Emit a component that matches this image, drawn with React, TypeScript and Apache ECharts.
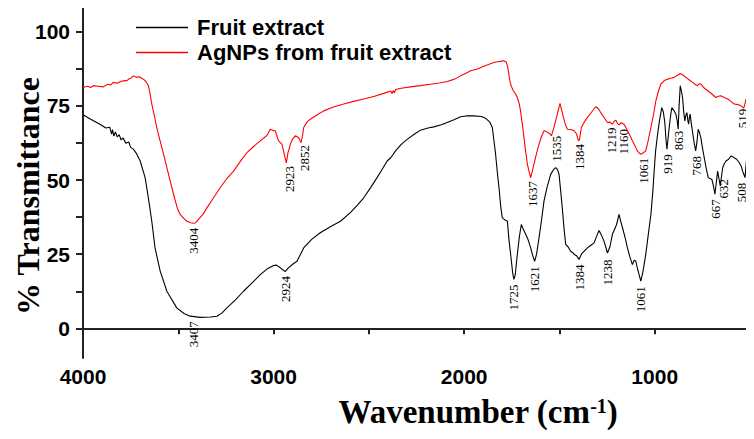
import React, { useEffect, useRef } from "react";
import * as echarts from "echarts";

// Wavenumber (cm-1) and % transmittance
const fruitWn = [4000,3960,3911,3880,3860,3850,3845,3838,3830,3820,3810,3800,3790,3775,3760,3750,3736,3720,3700,3674,3657,3639,3622,3595,3560,3508,3470,3438,3385,3330,3297,3270,3245,3200,3158,3110,3070,3030,3000,2985,2965,2945,2938,2925,2900,2877,2842,2800,2755,2700,2649,2597,2560,2527,2490,2457,2430,2404,2385,2360,2330,2299,2260,2229,2190,2159,2120,2089,2050,2019,1990,1949,1910,1887,1865,1852,1845,1835,1825,1817,1808,1800,1785,1773,1765,1756,1745,1739,1732,1721,1710,1700,1690,1677,1665,1651,1640,1630,1620,1607,1595,1581,1565,1546,1530,1520,1510,1502,1493,1485,1475,1467,1455,1441,1430,1420,1410,1397,1385,1370,1353,1335,1318,1305,1292,1280,1266,1255,1248,1235,1222,1210,1200,1187,1178,1169,1155,1143,1130,1117,1108,1099,1090,1082,1073,1062,1047,1035,1020,1010,1003,995,985,975,963,955,947,940,936,930,924,916,910,900,889,882,877,872,866,860,854,848,842,836,831,826,822,818,814,808,801,793,785,778,772,765,758,750,740,730,719,710,700,692,684,677,670,663,656,650,643,635,626,612,600,590,583,570,556,545,539,530,526,522,519];
const fruitT = [72,70.5,68.8,67.5,67.8,65.5,67,64.8,66.2,64.5,65.3,63.5,64.2,62.4,62.8,61,60.4,59,56.4,50.8,44,36.1,27.1,19.3,12.5,6.9,5,4.1,3.7,3.8,4.1,5.2,6.9,9.6,12.5,15.5,18.1,20.2,21.2,21.3,20.4,19.4,19.2,20.2,21.6,22.6,27.1,30,32.2,34.3,36.1,39,41.5,44,47.5,50.8,53.6,56.4,57.5,59.8,62,63.7,65.5,66.8,67.5,67.9,68.6,69.4,70.4,71.3,71.6,71.6,71.4,70.8,69.5,67.7,64,58.7,52,47.4,41,37.3,36.5,36.1,30,24.9,18.5,16.5,18,24.9,31,35,33.5,31.7,30,27.1,24.5,22.6,25,30.5,36,42.9,47.5,51.9,53.6,54.2,53.5,51.9,46,40.6,33,28.3,27.5,26,25.5,24.8,24.5,23.2,25,26,27.1,28,28.8,31,33,31.5,29.4,27,25.4,27.5,31.7,33.5,35,38.4,36,33.9,30.5,27.1,24,21.5,23,22.6,20,18.1,15.9,19,24.9,31,38.4,46,53,60,65.4,70,74.4,73,69.4,63,60.4,64,67.7,72,74.4,73.5,72.2,70,67.1,75,81.8,80,77.8,73,69.9,72,72.7,70,68.8,71,72.2,69,66,62.5,59.8,63,67.1,66,64.3,61,57.5,54,50.8,50.5,50.2,48,45.2,49,53,50.5,48,51,54.2,55.5,56.4,57,58.1,57.8,57.5,57,55.8,54.5,53,51.5,50.8,54,56.4];

const agWn = [4000,3975,3960,3946,3920,3893,3870,3855,3841,3820,3800,3788,3770,3755,3745,3736,3720,3705,3690,3683,3670,3657,3648,3639,3625,3613,3600,3586,3560,3540,3525,3505,3490,3470,3455,3435,3420,3408,3394,3370,3350,3315,3280,3245,3210,3175,3140,3105,3070,3035,3017,3000,2991,2974,2956,2945,2933,2925,2912,2900,2886,2869,2856,2848,2842,2825,2807,2770,2737,2690,2632,2580,2527,2470,2422,2385,2378,2372,2366,2360,2330,2282,2230,2176,2130,2089,2050,2019,1990,1966,1931,1890,1844,1810,1791,1780,1773,1766,1760,1752,1742,1730,1721,1712,1704,1695,1686,1677,1668,1658,1651,1642,1634,1620,1607,1595,1581,1570,1560,1550,1542,1530,1520,1508,1497,1488,1479,1470,1458,1440,1423,1410,1400,1395,1385,1370,1353,1330,1309,1295,1283,1265,1248,1235,1222,1212,1204,1195,1187,1175,1161,1150,1143,1130,1117,1100,1091,1080,1073,1060,1047,1035,1020,1005,994,980,968,950,933,915,898,880,866,850,836,820,801,785,775,765,758,740,722,700,679,665,653,635,617,600,583,570,556,545,533,527,521];
const agT = [81.2,81.6,81.2,81.8,81.6,81.4,82.3,82,82.9,82.6,83.3,83.4,83.5,84.2,84.5,85.1,84.6,84.8,84.2,84,83.2,81.8,79,75.6,71.5,67.7,64.3,60.9,54.2,49,45.2,40.5,38.4,37,36.1,35.6,35.4,35.6,36.7,38.5,40.6,44,47.4,50.5,53,56.2,59.2,61.3,63.2,65,67.1,66.6,66.6,63.2,62.1,59,55.8,59,62.1,63.8,64.9,64.3,62.6,65,67.7,69.5,70.5,72,73.3,74.5,75.6,76.5,77.3,78.2,79.2,80,79.1,80.2,79.3,80.5,80.9,81.4,81.8,82.3,82.7,83.2,84,85.1,86,86.8,87.4,88.5,89.6,90,90.2,89.8,88.5,86,83.4,81.5,80.1,79,77.8,76,73.3,69,64.3,59.5,55.3,52.5,50.8,53,55.3,59,62.1,64.5,66.6,66.4,66,65.5,64.9,67.5,69.9,73,75.8,73.5,71.1,69,67.1,67,66.6,65.5,63.2,63.5,67.7,69.5,71.1,73,74.7,74,72.7,71,69.4,69.5,68.8,69.8,70.2,69,68.6,69.3,68.8,67.5,66.6,65,63.2,61,59.8,59,58.7,59.2,59.8,63,67.7,72.5,76.7,80,82.3,83.5,84,84.3,84.6,85.3,85.9,85.3,84.6,83.8,82.9,82.1,81.8,82.5,82.3,81,80.1,79,77.8,78.2,78.4,77.8,77.3,76.5,75.6,75.5,75.3,74.9,74.2,75.5,77.3];

// Peak annotations: [text, wavenumber at label, transmittance at label top]
const fruitPeaks: [string, number, number][] = [
  ["3407", 3420, 2.4], ["2924", 2935, 17.6], ["1725", 1739, 14.8], ["1621", 1630, 20.9],
  ["1384", 1397, 21.5], ["1238", 1248, 23.2], ["1061", 1073, 14.2], ["919", 933, 58.7],
  ["863", 877, 66.6], ["768", 780, 58.1], ["667", 679, 43.5], ["632", 640, 50.3], ["508", 545, 49.1],
];
const agPeaks: [string, number, number][] = [
  ["3404", 3420, 33.9], ["2923", 2917, 54.7], ["2852", 2839, 61.8], ["1637", 1642, 49.7],
  ["1535", 1514, 64.9], ["1384", 1393, 62.1], ["1219", 1225, 67.7], ["1160", 1164, 67.2],
  ["1061", 1061, 57.5], ["519", 538, 74],
];

const seriesNames = ["Fruit extract", "AgNPs from fruit extract"];
const xTicks = [4000, 3000, 2000, 1000];
const yLabels = [0, 25, 50, 75, 100];
const yTicks = [0, 12.5, 25, 37.5, 50, 62.5, 75, 87.5, 100];

export default function App() {
  const ref = useRef<HTMLDivElement>(null);
  useEffect(() => {
    if (!ref.current) return;
    const chart = echarts.init(ref.current, null, { renderer: "svg" });
    const allPeaks = [...fruitPeaks, ...agPeaks];
    chart.setOption({
      animation: false,
      backgroundColor: "#fff",
      grid: { left: 83, right: 4, top: 2, bottom: 81, outerBoundsMode: "none" },
      legend: {
        data: seriesNames,
        orient: "vertical",
        left: 131,
        top: 11,
        icon: "rect",
        itemWidth: 52,
        itemHeight: 1.5,
        itemGap: 2,
        textStyle: {
          fontFamily: "Liberation Sans",
          fontWeight: "bold",
          fontSize: 22,
          lineHeight: 23,
          color: "#000",
          padding: [0, 0, 0, 4],
        },
      },
      xAxis: {
        type: "value",
        min: 500,
        max: 4000,
        interval: 500,
        inverse: true,
        splitLine: { show: false },
        axisLine: { lineStyle: { color: "#222", width: 2 } },
        axisTick: { length: 6, lineStyle: { color: "#222", width: 2 } },
        axisLabel: {
          margin: 8,
          fontFamily: "Liberation Sans",
          fontWeight: "bold",
          fontSize: 21,
          color: "#000",
          formatter: (v: number) => (xTicks.includes(v) ? String(v) : ""),
        },
      },
      yAxis: {
        type: "value",
        min: -10,
        max: 110,
        splitLine: { show: false },
        axisLine: { show: true, lineStyle: { color: "#222", width: 2 } },
        axisTick: { show: true, length: 7, customValues: yTicks, lineStyle: { color: "#222", width: 2 } },
        axisLabel: {
          margin: 13,
          customValues: yLabels,
          fontFamily: "Liberation Sans",
          fontWeight: "bold",
          fontSize: 21,
          color: "#000",
        },
      },
      series: [
        {
          name: seriesNames[0],
          type: "line",
          symbol: "none",
          data: fruitWn.map((w, i) => [w, fruitT[i]]),
          lineStyle: { color: "#000", width: 1.1 },
          itemStyle: { color: "#000" },
        },
        {
          name: seriesNames[1],
          type: "line",
          symbol: "none",
          data: agWn.map((w, i) => [w, agT[i]]),
          lineStyle: { color: "#ff0000", width: 1.1 },
          itemStyle: { color: "#ff0000" },
        },
        {
          type: "custom",
          silent: true,
          clip: false,
          encode: { x: 0, y: 1 },
          data: allPeaks.map((p) => [p[1], p[2]]),
          renderItem: (params: any, api: any) => {
            const pt = api.coord([api.value(0), api.value(1)]);
            return {
              type: "text",
              x: pt[0],
              y: pt[1],
              rotation: Math.PI / 2,
              style: {
                text: allPeaks[params.dataIndex][0],
                fontFamily: "Liberation Serif",
                fontSize: 13,
                fill: "#000",
                align: "right",
                verticalAlign: "middle",
              },
            };
          },
        },
      ],
      graphic: [
        {
          type: "text",
          x: 28,
          y: 196,
          rotation: Math.PI / 2,
          style: {
            text: "% Transmittance",
            fontFamily: "Liberation Serif",
            fontWeight: "bold",
            fontSize: 32,
            fill: "#000",
            align: "center",
            verticalAlign: "middle",
          },
        },
        {
          type: "text",
          x: 478,
          y: 412,
          style: {
            text: "{a|Wavenumber (cm}{b|-1}{a|)}",
            align: "center",
            verticalAlign: "middle",
            rich: {
              a: { fontFamily: "Liberation Serif", fontWeight: "bold", fontSize: 33, fill: "#000", color: "#000" },
              b: { fontFamily: "Liberation Serif", fontWeight: "bold", fontSize: 20, fill: "#000", color: "#000", verticalAlign: "top" },
            },
          },
        },
      ],
    });
    return () => chart.dispose();
  }, []);
  return <div ref={ref} style={{ width: 754, height: 439, margin: -8 }} />;
}
